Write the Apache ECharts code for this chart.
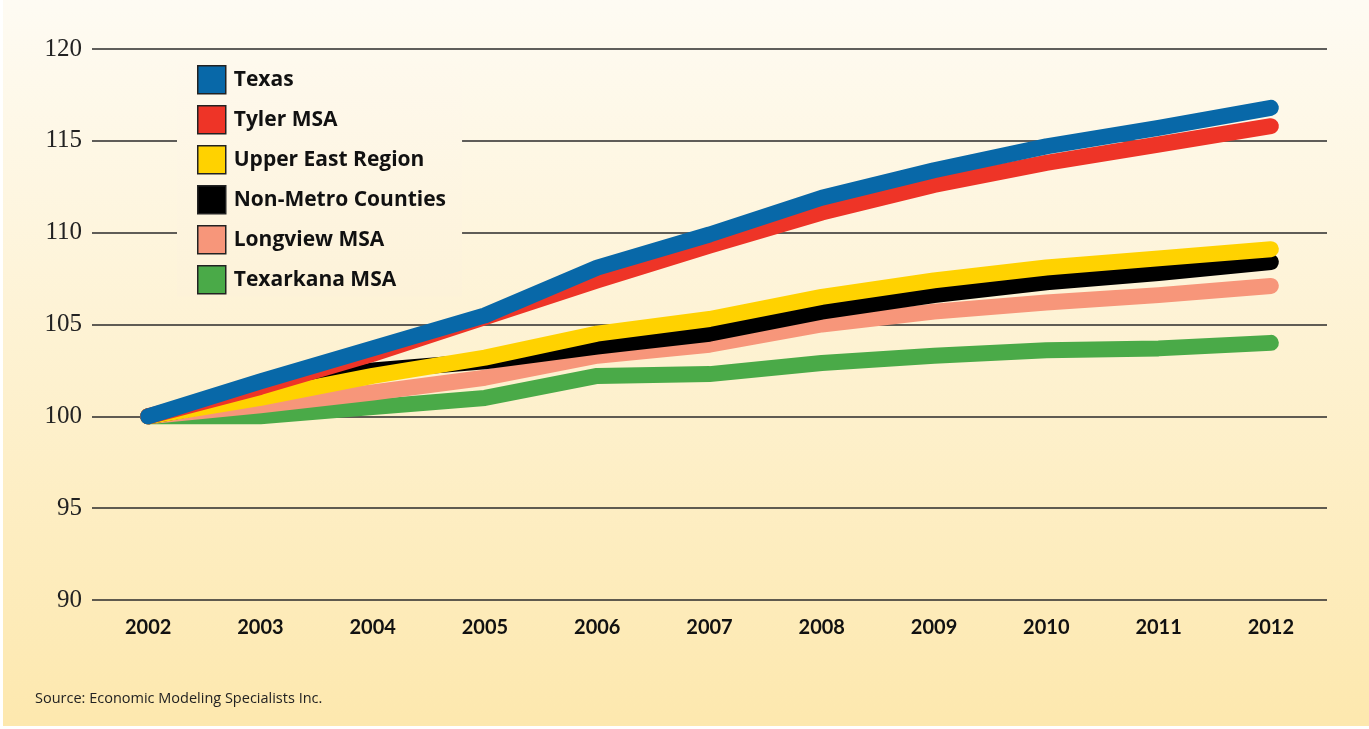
<!DOCTYPE html>
<html>
<head>
<meta charset="utf-8">
<script src="https://cdn.jsdelivr.net/npm/echarts@6/dist/echarts.min.js"></script>
<style>
  html, body { margin: 0; padding: 0; background: #ffffff; }
  #chart {
    position: absolute; left: 3px; top: 0;
    width: 1366px; height: 726px;
  }
</style>
</head>
<body>
<div id="chart"></div>
<script>
const years = ["2002", "2003", "2004", "2005", "2006", "2007", "2008", "2009", "2010", "2011", "2012"];

const texas      = [100, 101.9, 103.7, 105.5, 108.1, 109.9, 111.9, 113.4, 114.7, 115.7, 116.8];
const tyler      = [100, 101.6, 103.4, 105.4, 107.4, 109.3, 111.1, 112.6, 113.8, 114.8, 115.8];
const upperEast  = [100, 101.0, 102.2, 103.2, 104.5, 105.3, 106.5, 107.4, 108.1, 108.6, 109.1];
const nonMetro   = [100, 101.1, 102.5, 103.0, 103.8, 104.5, 105.7, 106.6, 107.3, 107.8, 108.4];
const longview   = [100, 100.6, 101.3, 102.1, 103.3, 103.9, 105.0, 105.7, 106.2, 106.6, 107.1];
const texarkana  = [100, 100.0, 100.5, 101.0, 102.2, 102.3, 102.9, 103.3, 103.6, 103.7, 104.0];

const yTicks = { min: 90, max: 120, step: 5 };

const chart = echarts.init(document.getElementById("chart"));

// drawn bottom-up so Texas ends on top, as in the print
const seriesDefs = [
  { name: "Texarkana MSA",       data: texarkana, color: "#4aaa48" },
  { name: "Longview MSA",        data: longview,  color: "#f7967a" },
  { name: "Non-Metro Counties",  data: nonMetro,  color: "#000000" },
  { name: "Upper East Region",   data: upperEast, color: "#ffd200" },
  { name: "Tyler MSA",           data: tyler,     color: "#ee3427" },
  { name: "Texas",               data: texas,     color: "#0868a8" },
];

chart.setOption({
  backgroundColor: new echarts.graphic.LinearGradient(0, 0, 0, 1, [
    { offset: 0, color: "#fefbf3" },
    { offset: 1, color: "#fde8ae" },
  ]),
  animation: false,
  grid: { left: 89, right: 42, top: 49, bottom: 126 },
  xAxis: {
    type: "category",
    data: years,
    boundaryGap: true,
    axisLine: { show: false },
    axisTick: { show: false },
    axisLabel: {
      color: "#111", fontSize: 20, fontWeight: "bold",
      fontFamily: "Lato", margin: 18,
    },
  },
  yAxis: {
    type: "value",
    min: yTicks.min, max: yTicks.max, interval: yTicks.step,
    axisLine: { show: false },
    axisTick: { show: false },
    splitLine: { lineStyle: { color: "#2a2a2a", width: 1.5 } },
    axisLabel: {
      color: "#222", fontSize: 25, fontFamily: "Liberation Serif", margin: 10,
    },
  },
  legend: {
    left: 174, top: 63,
    orient: "vertical",
    itemWidth: 28, itemHeight: 28,
    itemGap: 10.5,
    padding: [2, 16, 2, 20],
    backgroundColor: new echarts.graphic.LinearGradient(0, 0, 0, 1, [
      { offset: 0, color: "#fef9ed" },
      { offset: 1, color: "#fdf2d8" },
    ]),
    data: ["Texas", "Tyler MSA", "Upper East Region", "Non-Metro Counties", "Longview MSA", "Texarkana MSA"],
    icon: "rect",
    itemStyle: { borderColor: "#222", borderWidth: 1.5 },
    textStyle: { color: "#111", fontSize: 21, fontWeight: "bold", fontFamily: "Open Sans", padding: [0, 0, 0, 3] },
  },
  series: seriesDefs.map((s) => ({
    name: s.name,
    type: "line",
    data: s.data,
    symbol: "none",
    color: s.color,
    lineStyle: { color: s.color, width: 16, cap: "round", join: "round" },
  })),
  graphic: [{
    type: "text",
    left: 32, top: 691,
    style: {
      text: "Source: Economic Modeling Specialists Inc.",
      fill: "#222", fontSize: 14.5, fontFamily: "Open Sans",
    },
  }],
});
</script>
</body>
</html>
